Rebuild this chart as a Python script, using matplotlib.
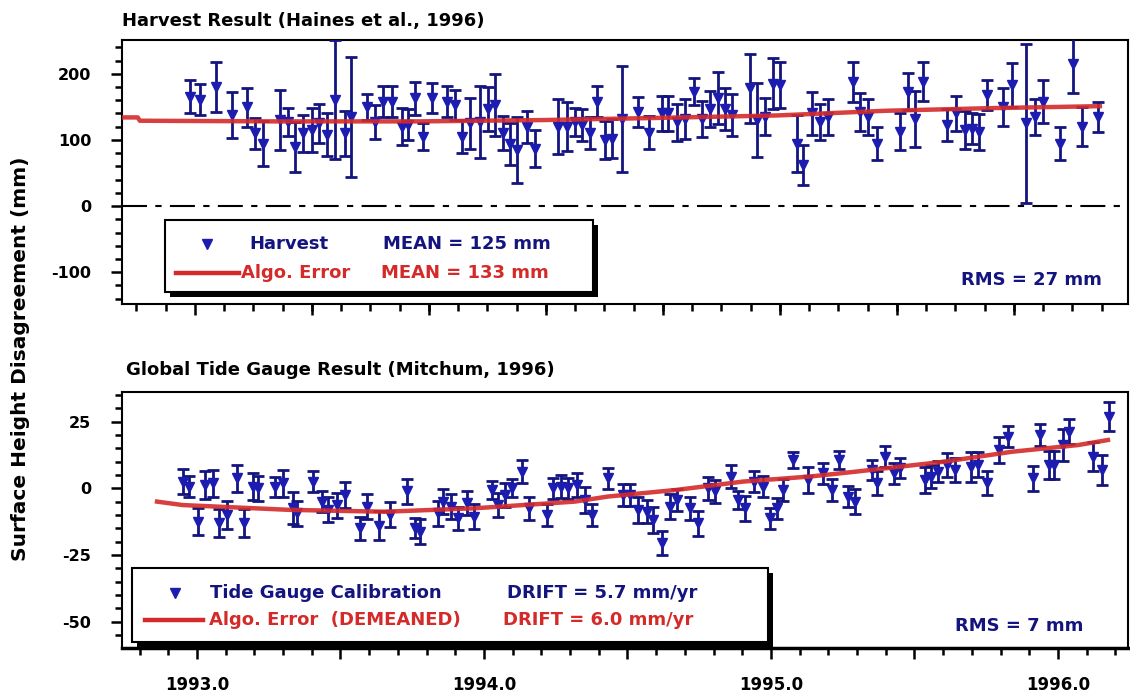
import matplotlib
matplotlib.use('Agg')
import matplotlib.pyplot as plt
import numpy as np
from matplotlib.patches import Rectangle
from matplotlib.lines import Line2D
from matplotlib.ticker import FixedLocator, MultipleLocator, FuncFormatter, NullFormatter

plt.rcParams['font.family'] = 'DejaVu Sans'
plt.rcParams['font.weight'] = 'bold'
plt.rcParams['axes.linewidth'] = 1.5
plt.rcParams['axes.unicode_minus'] = False

NAVY = '#14147e'
BLUE = '#1c1cb0'
RED = '#d42a2a'

# ---- Harvest platform (top panel) ----
harv_t = [1992.976, 1993.010, 1993.065, 1993.122, 1993.173, 1993.202, 1993.230, 1993.289,
          1993.317, 1993.341, 1993.369, 1993.400, 1993.425, 1993.452, 1993.481, 1993.516,
          1993.537, 1993.591, 1993.620, 1993.648, 1993.678, 1993.713, 1993.735, 1993.760,
          1993.787, 1993.818, 1993.870, 1993.899, 1993.922, 1993.951, 1993.986, 1994.014,
          1994.038, 1994.066, 1994.091, 1994.115, 1994.149, 1994.178, 1994.258, 1994.288,
          1994.317, 1994.340, 1994.369, 1994.394, 1994.422, 1994.445, 1994.480, 1994.537,
          1994.575, 1994.619, 1994.641, 1994.671, 1994.700, 1994.732, 1994.759, 1994.787,
          1994.814, 1994.840, 1994.864, 1994.927, 1994.950, 1994.979, 1995.007, 1995.031,
          1995.090, 1995.111, 1995.142, 1995.171, 1995.199, 1995.286, 1995.310, 1995.338,
          1995.368, 1995.449, 1995.477, 1995.502, 1995.530, 1995.612, 1995.645, 1995.676,
          1995.699, 1995.725, 1995.752, 1995.808, 1995.839, 1995.889, 1995.920, 1995.948,
          1996.007, 1996.052, 1996.083, 1996.139]
harv_v = [165, 161, 180, 138, 149, 110, 94, 130,
          127, 89, 110, 115, 125, 108, 161, 110,
          135, 150, 127, 158, 158, 120, 123, 163,
          105, 163, 158, 153, 105, 125, 127, 147,
          153, 110, 94, 85, 120, 87, 120, 120,
          127, 123, 110, 158, 100, 102, 132, 142,
          111, 140, 140, 127, 132, 173, 132, 147,
          163, 147, 138, 178, 130, 135, 185, 183,
          94, 62, 140, 127, 135, 188, 142, 135,
          94, 112, 173, 132, 188, 123, 140, 115,
          117, 112, 168, 150, 183, 125, 135, 158,
          94, 214, 120, 135]
harv_e = [25, 23, 38, 35, 30, 23, 34, 45,
          21, 38, 28, 33, 29, 32, 90, 34,
          91, 20, 26, 23, 23, 28, 23, 25,
          21, 23, 23, 23, 25, 38, 54, 33,
          47, 26, 32, 50, 24, 28, 42, 37,
          21, 24, 24, 23, 29, 29, 80, 23,
          25, 27, 27, 28, 30, 20, 27, 27,
          39, 32, 32, 52, 56, 28, 39, 35,
          43, 30, 33, 27, 27, 30, 29, 27,
          25, 28, 28, 42, 29, 24, 27, 28,
          23, 27, 23, 29, 33, 120, 27, 33,
          25, 43, 29, 23]
harv_algo_t = [1992.745, 1992.794, 1992.801, 1993.272, 1993.777, 1994.206, 1994.578,
               1995.024, 1995.397, 1995.763, 1996.146]
harv_algo_v = [134, 134, 129, 128, 128, 130, 133, 137, 144, 148, 151]

# ---- Tide gauge calibration (bottom panel) ----
tide_t = [1992.952, 1992.973, 1993.005, 1993.028, 1993.055, 1993.078, 1993.106, 1993.138,
          1993.164, 1993.196, 1993.214, 1993.272, 1993.301, 1993.336, 1993.347, 1993.405,
          1993.435, 1993.458, 1993.487, 1993.516, 1993.568, 1993.591, 1993.634, 1993.672,
          1993.731, 1993.760, 1993.777, 1993.841, 1993.858, 1993.887, 1993.910, 1993.940,
          1993.966, 1994.027, 1994.050, 1994.073, 1994.097, 1994.131, 1994.157, 1994.218,
          1994.241, 1994.268, 1994.294, 1994.323, 1994.352, 1994.377, 1994.433, 1994.485,
          1994.509, 1994.538, 1994.567, 1994.590, 1994.619, 1994.648, 1994.671, 1994.718,
          1994.747, 1994.782, 1994.805, 1994.860, 1994.886, 1994.909, 1994.941, 1994.971,
          1994.997, 1995.020, 1995.043, 1995.076, 1995.130, 1995.182, 1995.212, 1995.238,
          1995.269, 1995.293, 1995.351, 1995.368, 1995.397, 1995.430, 1995.449, 1995.537,
          1995.557, 1995.583, 1995.612, 1995.641, 1995.697, 1995.722, 1995.752, 1995.794,
          1995.827, 1995.914, 1995.937, 1995.969, 1995.987, 1996.018, 1996.038, 1996.123,
          1996.152, 1996.178]
tide_v = [2.5, 0.6, -12.5, 1.2, 1.9, -13, -10, 3.7,
          -13, 0.6, 0, 0.6, 1.9, -7.5, -9.3, 2.5,
          -5, -8.1, -6.3, -2.5, -15, -6.9, -14, -10,
          -1.2, -15, -16.3, -9.4, -5, -6.9, -11.3, -5.6,
          -10.6, -0.6, -6.3, -2.5, 0, 6.2, -7.5, -10,
          0, 0.6, 0, 1.2, -4.4, -10, 3.7, -2.5,
          -2.5, -8.1, -8.8, -11.9, -20.6, -6.9, -4.4, -7.5,
          -13.1, 0, -1.2, 4.4, -4.4, -7.5, 2.5, 0.6,
          -11.3, -7.5, -0.6, 10.6, 3.1, 5.6, -0.6, 10.6,
          -3.2, -5, 6.9, 1.9, 11.9, 5.6, 7.5, 3.1,
          4.4, 6.2, 8.8, 6.9, 8.1, 8.8, 1.9, 14.4,
          19.4, 3.8, 20, 8.8, 8.8, 16.2, 21.2, 11.9,
          6.9, 26.9]
tide_e = [4.7, 4, 5, 5.3, 5, 5.3, 5.3, 5.2,
          5.3, 5, 4.7, 3.8, 5, 6, 4.7, 4,
          3.8, 4.7, 4.7, 5, 4.4, 4.7, 5.3, 4.7,
          4.7, 3.8, 4.7, 4.7, 4.7, 4.7, 4.4, 4.4,
          4.7, 3.4, 4.4, 4.4, 3.4, 4.4, 4.4, 4,
          4, 4.4, 4, 4.4, 4.7, 4, 3.8, 4,
          4, 5, 4.4, 4.7, 4.4, 4.7, 4, 4.4,
          4.7, 4.4, 4.4, 4.4, 3.4, 4.7, 4, 4,
          3.8, 4, 4, 3.1, 4.7, 4, 4, 3.4,
          4, 4.7, 3.8, 4.4, 3.8, 4, 3.8, 4.7,
          4.4, 4, 4.4, 4.4, 5.6, 4.7, 4.4, 5,
          3.8, 4.7, 4, 5.3, 5.3, 6, 4.7, 5.3,
          5.6, 5.3]
tide_algo_t = [1992.861, 1992.951, 1993.324, 1993.655, 1993.969, 1994.317, 1994.432,
               1994.672, 1994.902, 1995.136, 1995.293, 1995.606, 1995.840, 1996.070, 1996.174]
tide_algo_v = [-5, -6.3, -8.1, -8.8, -7.5, -5, -3.1, -0.6, 2.5, 4.4, 6.2, 10, 13.7, 16.2, 18.1]

year_ticks = [1993.0, 1994.0, 1995.0, 1996.0]

W, H = 1130, 696
def fx(x):
    return x / W
def fy(y):
    return 1 - y / H

fig = plt.figure(figsize=(W / 100, H / 100), dpi=100)
ax1 = fig.add_axes([fx(122), fy(304), (1128 - 122) / W, (304 - 40) / H])
ax2 = fig.add_axes([fx(122), fy(648), (1128 - 122) / W, (648 - 392) / H])

for ax, t, v, e, at, av in [(ax1, harv_t, harv_v, harv_e, harv_algo_t, harv_algo_v),
                            (ax2, tide_t, tide_v, tide_e, tide_algo_t, tide_algo_v)]:
    ax.errorbar(t, v, yerr=e, fmt='v', ms=7.5, mfc=BLUE, mec=BLUE, ecolor=NAVY,
                elinewidth=2, capsize=4, capthick=2, zorder=3)
    ax.plot(at, av, color=RED, lw=3.2, alpha=0.9, zorder=4)
    ax.set_xlim(1992.739, 1996.244)
    ax.tick_params(axis='both', which='major', direction='out', length=8, width=1.8,
                   labelsize=11.5, colors='k')
    ax.tick_params(axis='both', which='minor', direction='out', length=5, width=1.8)
    ax.tick_params(axis='y', pad=14)
    ax.tick_params(top=False, right=False)

ax1.axhline(0, color='k', lw=1.5, dashes=(12, 4, 3, 4), zorder=1)
ax1.set_ylim(-148, 251)
ax1.yaxis.set_major_locator(MultipleLocator(100))
ax1.yaxis.set_minor_locator(MultipleLocator(20))
ax1.xaxis.set_major_locator(FixedLocator(np.arange(1992.993, 1996.25, 0.4077)))
ax1.xaxis.set_minor_locator(FixedLocator(np.arange(1992.993 - 2 * 0.1019, 1996.25, 0.1019)))
ax1.xaxis.set_major_formatter(NullFormatter())

ax2.set_ylim(-59.9, 36.1)
ax2.yaxis.set_major_locator(MultipleLocator(25))
ax2.yaxis.set_minor_locator(MultipleLocator(5))
ax2.xaxis.set_major_locator(MultipleLocator(0.5))
ax2.xaxis.set_minor_locator(MultipleLocator(0.1))
ax2.xaxis.set_major_formatter(FuncFormatter(
    lambda x, p: f'{x:.1f}' if any(abs(x - y) < 1e-6 for y in year_ticks) else ''))
ax2.tick_params(axis='x', pad=12, labelsize=12)
ax2.spines['bottom'].set_linewidth(2.5)

fig.text(fx(122), fy(21), 'Harvest Result (Haines et al., 1996)', fontsize=13,
         fontweight='bold', va='center', ha='left')
fig.text(fx(126), fy(370), 'Global Tide Gauge Result (Mitchum, 1996)', fontsize=13,
         fontweight='bold', va='center', ha='left')
fig.text(fx(21), fy(359), 'Surface Height Disagreement (mm)', fontsize=14.5,
         fontweight='bold', rotation=90, va='center', ha='center')


def legend_box(x0, y0, x1, y1):
    fig.add_artist(Rectangle((fx(x0 + 5), fy(y1 + 5)), (x1 - x0) / W, (y1 - y0) / H,
                             transform=fig.transFigure, fc='k', ec='none', zorder=5))
    fig.add_artist(Rectangle((fx(x0), fy(y1)), (x1 - x0) / W, (y1 - y0) / H,
                             transform=fig.transFigure, fc='white', ec='k', lw=1.5, zorder=6))


def legend_rows(mx, my, lx0, lx1, ly, rows):
    fig.add_artist(Line2D([fx(mx)], [fy(my)], marker='v', ms=7.5, color=BLUE, ls='none',
                          transform=fig.transFigure, zorder=7))
    fig.add_artist(Line2D([fx(lx0), fx(lx1)], [fy(ly), fy(ly)], color=RED, lw=3.2,
                          transform=fig.transFigure, zorder=7))
    for x, y, s, c in rows:
        fig.text(fx(x), fy(y), s, color=c, fontsize=13, fontweight='bold',
                 va='center', ha='left', zorder=8)


legend_box(165, 220, 593, 292)
legend_rows(207, 244, 176, 239, 273,
            [(249, 244, 'Harvest', NAVY), (383, 244, 'MEAN = 125 mm', NAVY),
             (241, 273, 'Algo. Error', RED), (381, 273, 'MEAN = 133 mm', RED)])

legend_box(132, 568, 768, 642)
legend_rows(175, 593, 145, 203, 620,
            [(210, 593, 'Tide Gauge Calibration', NAVY), (507, 593, 'DRIFT = 5.7 mm/yr', NAVY),
             (209, 620, 'Algo. Error  (DEMEANED)', RED), (503, 620, 'DRIFT = 6.0 mm/yr', RED)])

fig.text(fx(1031), fy(280), 'RMS = 27 mm', color=NAVY, fontsize=13, fontweight='bold',
         va='center', ha='center')
fig.text(fx(1019), fy(626), 'RMS = 7 mm', color=NAVY, fontsize=13, fontweight='bold',
         va='center', ha='center')

plt.savefig('out.png', dpi=100)
